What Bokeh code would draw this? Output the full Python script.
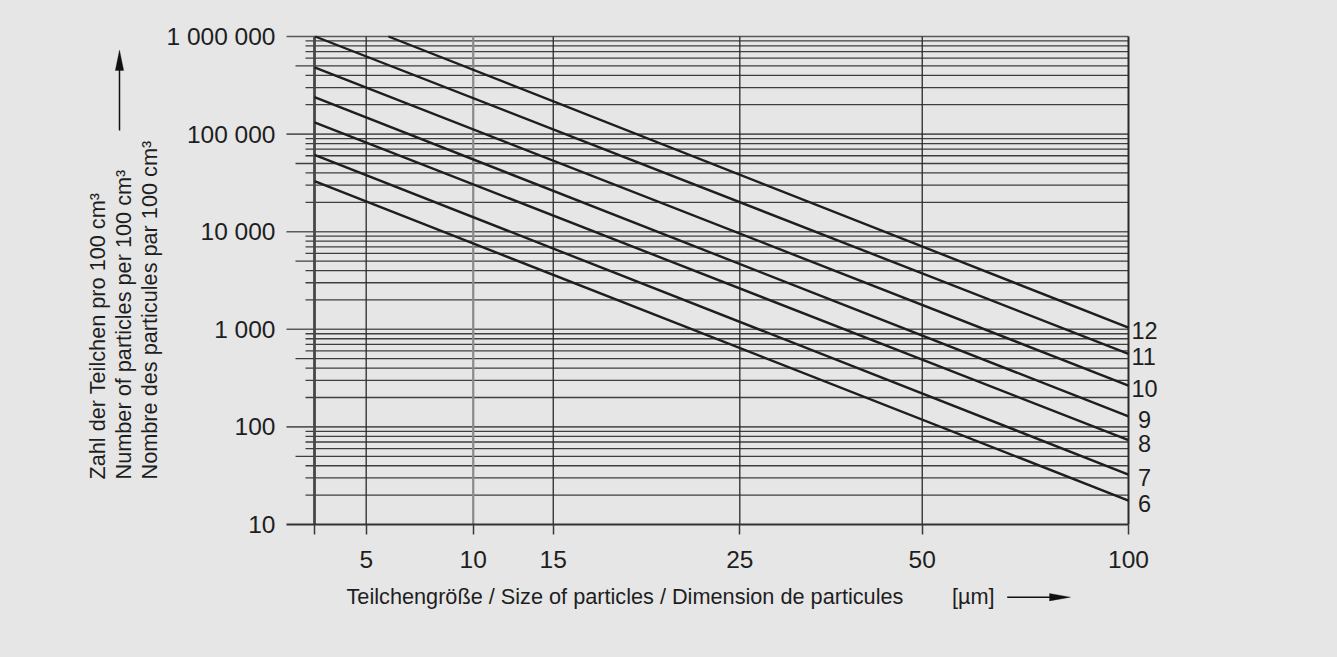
import math
from bokeh.plotting import figure
from bokeh.models import (FixedTicker, Label, Arrow, Range1d, LogAxis, PolyAnnotation)
from bokeh.embed import file_html
from bokeh.resources import INLINE

# ---------------- data ----------------
nas_classes = ["6", "7", "8", "9", "10", "11", "12"]
count_at_5um = [20400, 38000, 82000, 148000, 300000, 625000, 1230000]
count_at_100um = [17.6, 32.5, 73, 128, 265, 560, 1040]

size_ticks = [5, 10, 15, 25, 50, 100]
size_tick_labels = ["5", "10", "15", "25", "50", "100"]
# place of each size on the chart's own non-linear size scale
# (0 = left border of the grid, 1 = 100 µm)
size_scale = [0.0635, 0.1950, 0.2933, 0.5225, 0.7466, 1.0]

count_ticks = [10, 100, 1000, 10000, 100000, 1000000]
count_tick_labels = ["10", "100", "1 000", "10 000", "100 000", "1 000 000"]

y_title_lines = ["Zahl der Teilchen pro 100 cm³",
                 "Number of particles per 100 cm³",
                 "Nombre des particules par 100 cm³"]
x_title = "Teilchengröße / Size of particles / Dimension de particules"
x_unit = "[µm]"

# ---------------- layout ----------------
BG = "#e6e6e6"
INK = "#1e1e1e"
GRID = "#3e3e3e"
FONT = "Liberation Sans"
TITLE_PX = 21.7
W, H = 1320, 640
PAGE = 8                       # page margin
GRID_L, GRID_T, GRID_B = 286, 36, 524   # page px: tick-line start, 1e6 line, 10 line
U0_PX = 314                    # page x of the left grid border (size scale 0)
U_PX = 814                     # pixels per unit of the size scale
DEC_PX = (GRID_B - GRID_T) / 5.0
MID = 0.35 * TITLE_PX          # distance from text baseline to its middle


def ux(px):
    """page x pixel -> size-scale coordinate"""
    return (px - U0_PX) / U_PX


def vy(py):
    """page y pixel -> count coordinate (log)"""
    return 10 ** (1 + (GRID_B - py) / DEC_PX)


Y_MIN, Y_MAX = count_ticks[0], count_ticks[-1]

# the frame covers the whole canvas; axes are pinned at the grid edges
p = figure(width=W, height=H, output_backend="svg", toolbar_location=None,
           x_range=Range1d(ux(PAGE), ux(PAGE + W)),
           y_range=Range1d(vy(PAGE + H), vy(PAGE)), y_axis_type="log",
           min_border_left=0, min_border_right=0, min_border_top=0, min_border_bottom=0)
p.background_fill_color = BG
p.border_fill_color = BG
p.outline_line_color = None
p.xgrid.visible = False
p.ygrid.visible = False

# horizontal lines: decades start at the tick position, 5x a bit later, others later still
p.segment(x0=[ux(GRID_L)] * 5, y0=count_ticks[1:], x1=[1.0] * 5, y1=count_ticks[1:],
          line_color="#5a5a5a", line_width=1.6)
minor_vals, minor_x0 = [], []
for k in range(1, 6):
    for m in range(2, 10):
        minor_vals.append(m * 10 ** k)
        minor_x0.append(ux(295) if m == 5 else ux(305))
p.segment(x0=minor_x0, y0=minor_vals, x1=[1.0] * len(minor_vals), y1=minor_vals,
          line_color=GRID, line_width=1.3)

# vertical lines
p.segment(x0=[0.0], y0=[Y_MIN], x1=[0.0], y1=[Y_MAX], line_color="#474747", line_width=2.8)
for s, u in zip(size_ticks, size_scale):
    if s == 10:
        col, lw = "#8a8a8a", 2.2
    elif s == 100:
        col, lw = "#2a2a2a", 2.0
    else:
        col, lw = "#2a2a2a", 1.3
    p.segment(x0=[u], y0=[Y_MIN], x1=[u], y1=[Y_MAX], line_color=col, line_width=lw)

# class lines: straight on this chart, from the left border (or the top line) to 100 µm
pos = dict(zip(size_ticks, size_scale))
u5, u100 = pos[5], pos[100]
xs, ys = [], []
top = math.log10(Y_MAX)
for c5, c100 in zip(count_at_5um, count_at_100um):
    l5, l100 = math.log10(c5), math.log10(c100)
    slope = (l100 - l5) / (u100 - u5)
    l0 = l5 - slope * u5
    if l0 > top:
        xs.append([(top - l0) / slope, u100])
        ys.append([Y_MAX, c100])
    else:
        xs.append([0.0, u100])
        ys.append([10 ** l0, c100])
p.multi_line(xs, ys, line_color=INK, line_width=2.4)

# x axis (pinned at the bottom line of the grid)
xa = p.xaxis[0]
xa.fixed_location = Y_MIN
xa.bounds = (ux(GRID_L), 1.0)
xa.ticker = FixedTicker(ticks=[0.0] + size_scale, minor_ticks=[])
ov = {0.0: ""}
ov.update({u: l for u, l in zip(size_scale, size_tick_labels)})
xa.major_label_overrides = ov
xa.axis_line_color = "#333333"
xa.axis_line_width = 2
xa.major_tick_out = 10
xa.major_tick_in = 0
xa.major_tick_line_color = "#3a3a3a"
xa.major_tick_line_width = 1.5
xa.major_label_standoff = 16
xa.major_label_text_font = FONT
xa.major_label_text_font_size = "24.5px"
xa.major_label_text_color = INK

# y axis (labels only, pinned where the decade lines start)
ya = p.yaxis[0]
ya.fixed_location = ux(GRID_L)
ya.bounds = (Y_MIN, Y_MAX)
ya.ticker = FixedTicker(ticks=count_ticks, minor_ticks=[])
ya.major_label_overrides = {t: l for t, l in zip(count_ticks, count_tick_labels)}
ya.axis_line_color = None
ya.major_tick_line_color = None
ya.major_tick_out = 0
ya.major_tick_in = 0
ya.minor_tick_line_color = None
ya.major_label_standoff = 11
ya.major_label_text_font = FONT
ya.major_label_text_font_size = "24.5px"
ya.major_label_text_color = INK

# class labels at the right end of each line (a right-hand axis)
shift = 10 ** (-3.5 / DEC_PX)          # labels sit ~3.5 px below the line ends
class_ticks = [c * shift for c in count_at_100um]
ra = LogAxis(ticker=FixedTicker(ticks=class_ticks, minor_ticks=[]))
ra.fixed_location = 1.0
ra.major_label_overrides = {t: (("\u2008" + c) if len(c) == 1 else c)
                            for t, c in zip(class_ticks, nas_classes)}
ra.axis_line_color = None
ra.major_tick_line_color = None
ra.minor_tick_line_color = None
ra.major_tick_out = 0
ra.major_tick_in = 0
ra.major_label_standoff = 3
ra.major_label_text_font = FONT
ra.major_label_text_font_size = "23.5px"
ra.major_label_text_color = INK
p.add_layout(ra, "right")

# axis titles (anchored at the middle of the text line)
for i, line in enumerate(y_title_lines):
    p.add_layout(Label(x=ux(104.3 + 26 * i - MID), y=vy(479), text=line, angle=math.pi / 2,
                       text_align="left", text_baseline="middle", text_font=FONT,
                       text_font_size="%.1fpx" % TITLE_PX, text_color=INK))
p.add_layout(Label(x=ux(346), y=vy(604 - MID), text=x_title, text_align="left",
                   text_baseline="middle", text_font=FONT,
                   text_font_size="%.1fpx" % TITLE_PX, text_color=INK))
p.add_layout(Label(x=ux(951.5), y=vy(603.5 - MID), text=x_unit, text_align="left",
                   text_baseline="middle", text_font=FONT,
                   text_font_size="%.1fpx" % TITLE_PX, text_color=INK))

# arrows
p.add_layout(Arrow(end=None, x_start=ux(119), y_start=vy(130), x_end=ux(119), y_end=vy(69),
                   line_color="#111111", line_width=1.5))
p.add_layout(PolyAnnotation(xs=[ux(114.8), ux(123.2), ux(119)], ys=[vy(70), vy(70), vy(49.5)],
                            fill_color="#111111", fill_alpha=1, line_color="#111111"))
p.add_layout(Arrow(end=None, x_start=ux(1006.7), y_start=vy(596.7), x_end=ux(1050),
                   y_end=vy(596.7), line_color="#111111", line_width=1.5))
p.add_layout(PolyAnnotation(xs=[ux(1049), ux(1049), ux(1070)],
                            ys=[vy(593), vy(600.4), vy(596.7)],
                            fill_color="#111111", fill_alpha=1, line_color="#111111"))

html = file_html(p, INLINE, title="chart")
css = ("<style>html{background:%s;overflow:hidden;}"
       "body{margin:%dpx !important;background:%s;overflow:hidden;}</style></head>") % (BG, PAGE, BG)
html = html.replace("</head>", css, 1)
open("out.html", "w").write(html)
